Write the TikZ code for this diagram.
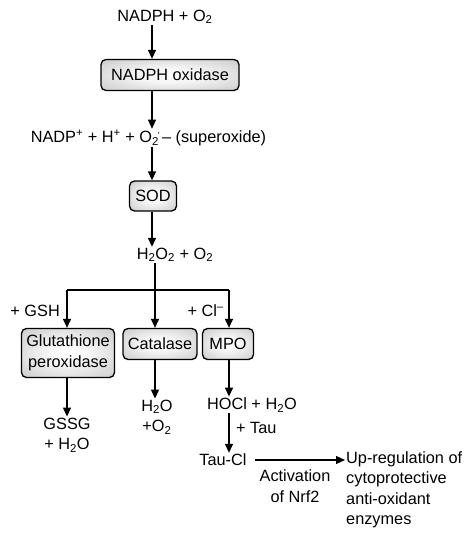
\documentclass[tikz,border=0pt]{standalone}
\usepackage{fontspec}
\setmainfont{Liberation Sans}
\usepackage{tikz}
\usetikzlibrary{arrows.meta,positioning,calc}
\newcommand{\sub}[1]{\textsubscript{#1}}
\newcommand{\sups}[1]{\textsuperscript{#1}}
\pgfdeclareradialshading{boxglow}{\pgfpoint{0bp}{0bp}}{%
  color(0bp)=(white); color(12bp)=(black!4); color(50bp)=(black!30);
  color(72bp)=(black!36)}

\begin{document}
\begin{tikzpicture}[
  x=1pt, y=-1pt,
  font=\fontsize{16.3}{20.5}\selectfont,
  enzyme/.style={draw=black, line width=1.3pt, rounded corners=5pt,
    shading=boxglow, align=center, inner sep=1pt},
  chem/.style={align=center, inner sep=1pt},
  arr/.style={-{Triangle[length=9pt,width=8pt]}, line width=1.3pt},
  link/.style={line width=1.3pt}
]
\useasboundingbox (0,0) rectangle (475,544);

% spines
\coordinate (sp1) at (152,0);
\coordinate (sp2) at (155,0);
\coordinate (spl) at (67,0);
\coordinate (spr) at (229,0);
\coordinate (split) at (155,290);

\node[chem] (nadph) at (165,17) {NADPH + O\sub{2}};
\node[enzyme, minimum width=138pt, minimum height=31pt] (nox) at (170,75) {NADPH oxidase};
\node[chem] (sup) at (148.5,138) {NADP\sups{+} + H\sups{+} + O\sub{2}\kern-0.12em\sups{·}\kern0.05em– (superoxide)};
\node[enzyme, minimum width=47pt, minimum height=30pt] (sod) at (153,196) {SOD};
\node[chem] (hp) at (175,255) {H\sub{2}O\sub{2} + O\sub{2}};

\node[enzyme, minimum width=93pt, minimum height=49pt] (gpx) at (68,353) {Glutathione\\peroxidase};
\node[enzyme, minimum width=74pt, minimum height=31pt] (cat) at (160,344) {Catalase};
\node[enzyme, minimum width=51pt, minimum height=31pt] (mpo) at (228,344) {MPO};
\node[chem, anchor=east] (gsh) at (61,311) {+ GSH};
\node[chem, anchor=east] (cl) at (225,311) {+ Cl\sups{–}};

\node[chem] (gssg) at (67,435) {GSSG\\+ H\sub{2}O};
\node[chem] (water) at (157,417) {H\sub{2}O\\+O\sub{2}};
\node[chem] (hocl) at (252,405) {HOCl + H\sub{2}O};
\node[chem] (taucl) at (223,460) {Tau-Cl};
\node[chem, anchor=west] (tau) at (235,428) {+ Tau};
\node[chem, anchor=west, align=left] (upreg) at (345,490) {Up-regulation of\\cytoprotective\\anti-oxidant\\enzymes};
\node[chem] (nrf) at (295,486) {Activation\\of Nrf2};
\coordinate (act) at (255,460);

\draw[arr] (nadph.south -| sp1) -- (nox.north -| sp1);
\draw[arr] (nox.south -| sp1) -- (sup.north -| sp1);
\draw[arr] (sup.south -| sp1) -- (sod.north -| sp1);
\draw[arr] (sod.south -| sp1) -- (hp.north -| sp1);

\draw[link] (hp.south -| sp2) -- (split);
\draw[link] (split -| spl) -- (split -| spr);
\draw[arr] (split -| spl) -- (gpx.north -| spl);
\draw[arr] (split) -- (cat.north -| sp2);
\draw[arr] (split -| spr) -- (mpo.north -| spr);

\draw[arr] (gpx.south -| spl) -- (gssg.north -| spl);
\draw[arr] (cat.south -| sp2) -- (water.north -| sp2);
\draw[arr] (mpo.south -| spr) -- (hocl.north -| spr);
\draw[arr] (hocl.south -| spr) -- (taucl.north -| spr);
\draw[arr] (act) -- (upreg.west |- act);
\end{tikzpicture}
\end{document}
